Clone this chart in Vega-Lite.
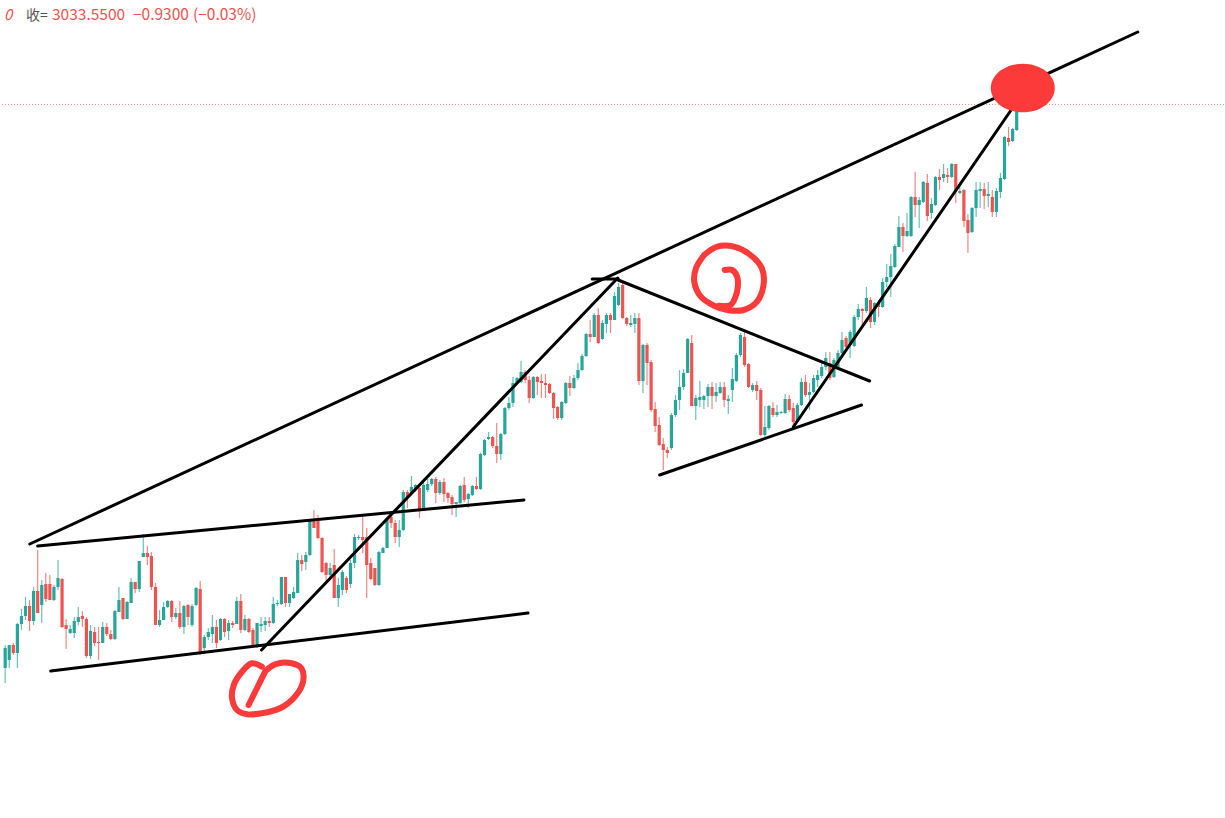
{
"$schema":"https://vega.github.io/schema/vega-lite/v6.json",
"width":1225,"height":818,
"autosize":{"type":"fit","contains":"padding"},
"padding":0,
"background":"#ffffff",
"config":{"view":{"stroke":null}},
"datasets":{
"candles":[
{"i":0,"o":2470,"h":2493,"l":2455,"c":2490},
{"i":1,"o":2478,"h":2493,"l":2470,"c":2493},
{"i":2,"o":2493,"h":2495,"l":2483,"c":2485},
{"i":3,"o":2485,"h":2515,"l":2470,"c":2514},
{"i":4,"o":2514,"h":2529,"l":2508,"c":2522},
{"i":5,"o":2522,"h":2541,"l":2518,"c":2532},
{"i":6,"o":2532,"h":2538,"l":2507,"c":2517},
{"i":7,"o":2517,"h":2551,"l":2513,"c":2547},
{"i":8,"o":2547,"h":2588,"l":2525,"c":2525},
{"i":9,"o":2533,"h":2558,"l":2515,"c":2553},
{"i":10,"o":2554,"h":2565,"l":2536,"c":2539},
{"i":11,"o":2554,"h":2563,"l":2538,"c":2538},
{"i":12,"o":2538,"h":2553,"l":2537,"c":2551},
{"i":13,"o":2551,"h":2578,"l":2548,"c":2560},
{"i":14,"o":2559,"h":2560,"l":2510,"c":2511},
{"i":15,"o":2513,"h":2519,"l":2489,"c":2509},
{"i":16,"o":2505,"h":2513,"l":2504,"c":2509},
{"i":17,"o":2505,"h":2521,"l":2500,"c":2517},
{"i":18,"o":2516,"h":2531,"l":2513,"c":2521},
{"i":19,"o":2522,"h":2527,"l":2511,"c":2519},
{"i":20,"o":2519,"h":2521,"l":2480,"c":2482},
{"i":21,"o":2482,"h":2513,"l":2479,"c":2507},
{"i":22,"o":2506,"h":2511,"l":2492,"c":2495},
{"i":23,"o":2496,"h":2511,"l":2478,"c":2495},
{"i":24,"o":2495,"h":2516,"l":2495,"c":2511},
{"i":25,"o":2511,"h":2515,"l":2502,"c":2504},
{"i":26,"o":2504,"h":2508,"l":2498,"c":2499},
{"i":27,"o":2499,"h":2528,"l":2498,"c":2527},
{"i":28,"o":2526,"h":2551,"l":2526,"c":2538},
{"i":29,"o":2540,"h":2540,"l":2518,"c":2519},
{"i":30,"o":2519,"h":2537,"l":2519,"c":2536},
{"i":31,"o":2535,"h":2560,"l":2535,"c":2556},
{"i":32,"o":2556,"h":2556,"l":2545,"c":2549},
{"i":33,"o":2549,"h":2577,"l":2546,"c":2577},
{"i":34,"o":2581,"h":2604,"l":2581,"c":2585},
{"i":35,"o":2585,"h":2592,"l":2573,"c":2581},
{"i":36,"o":2582,"h":2586,"l":2548,"c":2551},
{"i":37,"o":2551,"h":2555,"l":2513,"c":2513},
{"i":38,"o":2513,"h":2528,"l":2511,"c":2518},
{"i":39,"o":2518,"h":2536,"l":2518,"c":2531},
{"i":40,"o":2531,"h":2538,"l":2530,"c":2537},
{"i":41,"o":2537,"h":2538,"l":2516,"c":2521},
{"i":42,"o":2521,"h":2530,"l":2519,"c":2525},
{"i":43,"o":2525,"h":2537,"l":2509,"c":2511},
{"i":44,"o":2511,"h":2533,"l":2504,"c":2532},
{"i":45,"o":2533,"h":2534,"l":2513,"c":2521},
{"i":46,"o":2513,"h":2534,"l":2511,"c":2532},
{"i":47,"o":2533,"h":2551,"l":2532,"c":2550},
{"i":48,"o":2549,"h":2557,"l":2483,"c":2484},
{"i":49,"o":2490,"h":2503,"l":2484,"c":2501},
{"i":50,"o":2501,"h":2510,"l":2498,"c":2506},
{"i":51,"o":2504,"h":2523,"l":2495,"c":2511},
{"i":52,"o":2511,"h":2518,"l":2490,"c":2495},
{"i":53,"o":2498,"h":2520,"l":2497,"c":2519},
{"i":54,"o":2519,"h":2520,"l":2501,"c":2506},
{"i":55,"o":2507,"h":2518,"l":2498,"c":2515},
{"i":56,"o":2515,"h":2517,"l":2510,"c":2513},
{"i":57,"o":2514,"h":2541,"l":2514,"c":2537},
{"i":58,"o":2537,"h":2544,"l":2505,"c":2508},
{"i":59,"o":2508,"h":2523,"l":2507,"c":2519},
{"i":60,"o":2519,"h":2520,"l":2505,"c":2506},
{"i":61,"o":2508,"h":2510,"l":2490,"c":2491},
{"i":62,"o":2491,"h":2515,"l":2490,"c":2515},
{"i":63,"o":2512,"h":2521,"l":2506,"c":2514},
{"i":64,"o":2513,"h":2521,"l":2507,"c":2517},
{"i":65,"o":2517,"h":2521,"l":2511,"c":2515},
{"i":66,"o":2515,"h":2541,"l":2514,"c":2534},
{"i":67,"o":2534,"h":2538,"l":2532,"c":2535},
{"i":68,"o":2534,"h":2561,"l":2533,"c":2561},
{"i":69,"o":2561,"h":2561,"l":2531,"c":2535},
{"i":70,"o":2535,"h":2544,"l":2531,"c":2544},
{"i":71,"o":2540,"h":2551,"l":2539,"c":2546},
{"i":72,"o":2545,"h":2585,"l":2545,"c":2578},
{"i":73,"o":2578,"h":2583,"l":2567,"c":2574},
{"i":74,"o":2576,"h":2586,"l":2568,"c":2583},
{"i":75,"o":2583,"h":2618,"l":2582,"c":2618},
{"i":76,"o":2618,"h":2628,"l":2610,"c":2610},
{"i":77,"o":2617,"h":2623,"l":2599,"c":2600},
{"i":78,"o":2600,"h":2601,"l":2565,"c":2566},
{"i":79,"o":2575,"h":2576,"l":2556,"c":2563},
{"i":80,"o":2563,"h":2575,"l":2560,"c":2570},
{"i":81,"o":2573,"h":2589,"l":2540,"c":2540},
{"i":82,"o":2540,"h":2560,"l":2531,"c":2553},
{"i":83,"o":2548,"h":2568,"l":2543,"c":2566},
{"i":84,"o":2560,"h":2562,"l":2545,"c":2548},
{"i":85,"o":2554,"h":2578,"l":2550,"c":2575},
{"i":86,"o":2575,"h":2604,"l":2570,"c":2601},
{"i":87,"o":2600,"h":2603,"l":2598,"c":2601},
{"i":88,"o":2601,"h":2622,"l":2585,"c":2598},
{"i":89,"o":2601,"h":2610,"l":2540,"c":2573},
{"i":90,"o":2575,"h":2580,"l":2558,"c":2559},
{"i":91,"o":2570,"h":2570,"l":2552,"c":2553},
{"i":92,"o":2553,"h":2587,"l":2552,"c":2586},
{"i":93,"o":2585,"h":2591,"l":2585,"c":2590},
{"i":94,"o":2590,"h":2621,"l":2590,"c":2620},
{"i":95,"o":2621,"h":2625,"l":2610,"c":2615},
{"i":96,"o":2615,"h":2618,"l":2595,"c":2601},
{"i":97,"o":2601,"h":2618,"l":2591,"c":2608},
{"i":98,"o":2608,"h":2648,"l":2607,"c":2646},
{"i":99,"o":2646,"h":2648,"l":2630,"c":2640},
{"i":100,"o":2645,"h":2662,"l":2643,"c":2651},
{"i":101,"o":2648,"h":2654,"l":2646,"c":2653},
{"i":102,"o":2650,"h":2651,"l":2620,"c":2629},
{"i":103,"o":2629,"h":2655,"l":2628,"c":2653},
{"i":104,"o":2648,"h":2659,"l":2646,"c":2654},
{"i":105,"o":2654,"h":2660,"l":2652,"c":2659},
{"i":106,"o":2659,"h":2661,"l":2635,"c":2645},
{"i":107,"o":2645,"h":2658,"l":2643,"c":2656},
{"i":108,"o":2656,"h":2660,"l":2636,"c":2644},
{"i":109,"o":2645,"h":2646,"l":2635,"c":2640},
{"i":110,"o":2641,"h":2643,"l":2623,"c":2634},
{"i":111,"o":2634,"h":2636,"l":2621,"c":2636},
{"i":112,"o":2635,"h":2653,"l":2634,"c":2652},
{"i":113,"o":2653,"h":2661,"l":2636,"c":2638},
{"i":114,"o":2639,"h":2645,"l":2630,"c":2644},
{"i":115,"o":2643,"h":2653,"l":2642,"c":2652},
{"i":116,"o":2652,"h":2661,"l":2648,"c":2649},
{"i":117,"o":2649,"h":2685,"l":2648,"c":2684},
{"i":118,"o":2683,"h":2699,"l":2682,"c":2698},
{"i":119,"o":2699,"h":2706,"l":2698,"c":2701},
{"i":120,"o":2701,"h":2702,"l":2690,"c":2692},
{"i":121,"o":2692,"h":2715,"l":2675,"c":2684},
{"i":122,"o":2684,"h":2705,"l":2678,"c":2704},
{"i":123,"o":2704,"h":2731,"l":2703,"c":2730},
{"i":124,"o":2730,"h":2741,"l":2728,"c":2735},
{"i":125,"o":2735,"h":2761,"l":2731,"c":2755},
{"i":126,"o":2755,"h":2761,"l":2753,"c":2760},
{"i":127,"o":2756,"h":2777,"l":2755,"c":2766},
{"i":128,"o":2766,"h":2768,"l":2755,"c":2758},
{"i":129,"o":2758,"h":2762,"l":2735,"c":2740},
{"i":130,"o":2740,"h":2762,"l":2739,"c":2761},
{"i":131,"o":2761,"h":2762,"l":2743,"c":2756},
{"i":132,"o":2757,"h":2764,"l":2740,"c":2755},
{"i":133,"o":2755,"h":2764,"l":2740,"c":2753},
{"i":134,"o":2754,"h":2755,"l":2744,"c":2745},
{"i":135,"o":2745,"h":2746,"l":2719,"c":2730},
{"i":136,"o":2731,"h":2732,"l":2718,"c":2720},
{"i":137,"o":2720,"h":2737,"l":2718,"c":2736},
{"i":138,"o":2735,"h":2756,"l":2734,"c":2755},
{"i":139,"o":2755,"h":2762,"l":2742,"c":2750},
{"i":140,"o":2750,"h":2763,"l":2749,"c":2760},
{"i":141,"o":2760,"h":2775,"l":2758,"c":2768},
{"i":142,"o":2768,"h":2784,"l":2767,"c":2782},
{"i":143,"o":2782,"h":2805,"l":2781,"c":2804},
{"i":144,"o":2804,"h":2818,"l":2796,"c":2801},
{"i":145,"o":2801,"h":2825,"l":2801,"c":2823},
{"i":146,"o":2823,"h":2830,"l":2794,"c":2795},
{"i":147,"o":2799,"h":2818,"l":2798,"c":2815},
{"i":148,"o":2814,"h":2825,"l":2805,"c":2823},
{"i":149,"o":2823,"h":2825,"l":2805,"c":2818},
{"i":150,"o":2818,"h":2846,"l":2818,"c":2842},
{"i":151,"o":2833,"h":2855,"l":2832,"c":2851},
{"i":152,"o":2853,"h":2855,"l":2819,"c":2820},
{"i":153,"o":2820,"h":2821,"l":2812,"c":2814},
{"i":154,"o":2813,"h":2823,"l":2811,"c":2815},
{"i":155,"o":2814,"h":2825,"l":2805,"c":2820},
{"i":156,"o":2820,"h":2825,"l":2753,"c":2757},
{"i":157,"o":2757,"h":2794,"l":2745,"c":2793},
{"i":158,"o":2793,"h":2795,"l":2753,"c":2775},
{"i":159,"o":2776,"h":2778,"l":2726,"c":2728},
{"i":160,"o":2729,"h":2736,"l":2706,"c":2712},
{"i":161,"o":2713,"h":2721,"l":2692,"c":2693},
{"i":162,"o":2694,"h":2700,"l":2668,"c":2688},
{"i":163,"o":2688,"h":2691,"l":2680,"c":2685},
{"i":164,"o":2690,"h":2725,"l":2688,"c":2723},
{"i":165,"o":2723,"h":2743,"l":2721,"c":2738},
{"i":166,"o":2738,"h":2768,"l":2728,"c":2751},
{"i":167,"o":2751,"h":2769,"l":2748,"c":2765},
{"i":168,"o":2765,"h":2800,"l":2765,"c":2799},
{"i":169,"o":2795,"h":2803,"l":2732,"c":2732},
{"i":170,"o":2732,"h":2743,"l":2718,"c":2740},
{"i":171,"o":2738,"h":2757,"l":2731,"c":2741},
{"i":172,"o":2738,"h":2743,"l":2729,"c":2742},
{"i":173,"o":2742,"h":2754,"l":2731,"c":2751},
{"i":174,"o":2751,"h":2756,"l":2729,"c":2742},
{"i":175,"o":2742,"h":2755,"l":2736,"c":2746},
{"i":176,"o":2745,"h":2756,"l":2744,"c":2751},
{"i":177,"o":2751,"h":2756,"l":2731,"c":2738},
{"i":178,"o":2737,"h":2743,"l":2724,"c":2739},
{"i":179,"o":2748,"h":2770,"l":2736,"c":2759},
{"i":180,"o":2757,"h":2785,"l":2756,"c":2783},
{"i":181,"o":2783,"h":2805,"l":2781,"c":2803},
{"i":182,"o":2801,"h":2806,"l":2771,"c":2773},
{"i":183,"o":2774,"h":2775,"l":2750,"c":2751},
{"i":184,"o":2748,"h":2755,"l":2746,"c":2753},
{"i":185,"o":2753,"h":2757,"l":2738,"c":2747},
{"i":186,"o":2748,"h":2750,"l":2702,"c":2703},
{"i":187,"o":2703,"h":2732,"l":2701,"c":2711},
{"i":188,"o":2710,"h":2733,"l":2708,"c":2732},
{"i":189,"o":2730,"h":2736,"l":2721,"c":2723},
{"i":190,"o":2723,"h":2733,"l":2721,"c":2726},
{"i":191,"o":2725,"h":2727,"l":2724,"c":2726},
{"i":192,"o":2725,"h":2744,"l":2724,"c":2739},
{"i":193,"o":2739,"h":2743,"l":2726,"c":2728},
{"i":194,"o":2730,"h":2735,"l":2711,"c":2716},
{"i":195,"o":2716,"h":2735,"l":2715,"c":2733},
{"i":196,"o":2733,"h":2760,"l":2732,"c":2756},
{"i":197,"o":2756,"h":2763,"l":2741,"c":2743},
{"i":198,"o":2743,"h":2755,"l":2728,"c":2746},
{"i":199,"o":2746,"h":2763,"l":2745,"c":2760},
{"i":200,"o":2758,"h":2768,"l":2751,"c":2763},
{"i":201,"o":2762,"h":2776,"l":2760,"c":2771},
{"i":202,"o":2771,"h":2786,"l":2768,"c":2780},
{"i":203,"o":2775,"h":2786,"l":2758,"c":2760},
{"i":204,"o":2761,"h":2780,"l":2760,"c":2778},
{"i":205,"o":2771,"h":2788,"l":2770,"c":2785},
{"i":206,"o":2785,"h":2806,"l":2780,"c":2798},
{"i":207,"o":2800,"h":2802,"l":2790,"c":2791},
{"i":208,"o":2793,"h":2808,"l":2780,"c":2806},
{"i":209,"o":2792,"h":2823,"l":2791,"c":2821},
{"i":210,"o":2821,"h":2834,"l":2818,"c":2829},
{"i":211,"o":2829,"h":2830,"l":2813,"c":2827},
{"i":212,"o":2827,"h":2851,"l":2825,"c":2840},
{"i":213,"o":2838,"h":2841,"l":2810,"c":2816},
{"i":214,"o":2816,"h":2836,"l":2813,"c":2835},
{"i":215,"o":2835,"h":2838,"l":2821,"c":2831},
{"i":216,"o":2831,"h":2860,"l":2830,"c":2856},
{"i":217,"o":2856,"h":2874,"l":2851,"c":2861},
{"i":218,"o":2861,"h":2884,"l":2841,"c":2872},
{"i":219,"o":2871,"h":2894,"l":2870,"c":2892},
{"i":220,"o":2891,"h":2922,"l":2891,"c":2911},
{"i":221,"o":2911,"h":2915,"l":2886,"c":2902},
{"i":222,"o":2902,"h":2925,"l":2901,"c":2907},
{"i":223,"o":2902,"h":2942,"l":2901,"c":2941},
{"i":224,"o":2941,"h":2966,"l":2921,"c":2933},
{"i":225,"o":2933,"h":2941,"l":2910,"c":2938},
{"i":226,"o":2936,"h":2957,"l":2935,"c":2956},
{"i":227,"o":2955,"h":2964,"l":2917,"c":2922},
{"i":228,"o":2925,"h":2940,"l":2919,"c":2934},
{"i":229,"o":2933,"h":2962,"l":2932,"c":2961},
{"i":230,"o":2961,"h":2969,"l":2948,"c":2958},
{"i":231,"o":2960,"h":2974,"l":2956,"c":2964},
{"i":232,"o":2963,"h":2970,"l":2955,"c":2961},
{"i":233,"o":2961,"h":2975,"l":2960,"c":2974},
{"i":234,"o":2974,"h":2974,"l":2935,"c":2947},
{"i":235,"o":2945,"h":2956,"l":2944,"c":2947},
{"i":236,"o":2948,"h":2949,"l":2911,"c":2917},
{"i":237,"o":2918,"h":2924,"l":2885,"c":2905},
{"i":238,"o":2906,"h":2931,"l":2905,"c":2930},
{"i":239,"o":2930,"h":2956,"l":2921,"c":2948},
{"i":240,"o":2947,"h":2956,"l":2930,"c":2949},
{"i":241,"o":2949,"h":2955,"l":2929,"c":2942},
{"i":242,"o":2942,"h":2956,"l":2931,"c":2944},
{"i":243,"o":2941,"h":2948,"l":2921,"c":2926},
{"i":244,"o":2926,"h":2950,"l":2921,"c":2947},
{"i":245,"o":2946,"h":2965,"l":2940,"c":2960},
{"i":246,"o":2959,"h":3002,"l":2958,"c":3001},
{"i":247,"o":3000,"h":3011,"l":2992,"c":2996},
{"i":248,"o":2997,"h":3010,"l":2996,"c":3009},
{"i":249,"o":3008,"h":3034,"l":3007,"c":3033.55}
],
"trend":[
{"x1":6.05,"p1":2594,"x2":278.8,"p2":3106},
{"x1":8.0,"p1":2592,"x2":127.7,"p2":2638},
{"x1":11.2,"p1":2467,"x2":128.7,"p2":2525},
{"x1":63.1,"p1":2488,"x2":150.8,"p2":2860},
{"x1":144.5,"p1":2859,"x2":150.9,"p2":2859},
{"x1":150.9,"p1":2858,"x2":212.8,"p2":2757},
{"x1":161.1,"p1":2663,"x2":210.8,"p2":2733},
{"x1":194.0,"p1":2711,"x2":248.3,"p2":3032}
],
"hand":[
{"g":"a","k":0,"x":63.17,"p":2471.3},
{"g":"a","k":1,"x":60.73,"p":2474.7},
{"g":"a","k":2,"x":58.29,"p":2466.3},
{"g":"a","k":3,"x":56.27,"p":2453},
{"g":"a","k":4,"x":55.85,"p":2439.7},
{"g":"a","k":5,"x":57.07,"p":2428},
{"g":"a","k":6,"x":59.51,"p":2423.7},
{"g":"a","k":7,"x":63.17,"p":2424.7},
{"g":"a","k":8,"x":67.65,"p":2429.7},
{"g":"a","k":9,"x":71.31,"p":2441.3},
{"g":"a","k":10,"x":73.33,"p":2456.3},
{"g":"a","k":11,"x":72.92,"p":2469.7},
{"g":"a","k":12,"x":70.48,"p":2474.7},
{"g":"a","k":13,"x":66.43,"p":2473.7},
{"g":"a","k":14,"x":64.38,"p":2468},
{"g":"b","k":0,"x":63.99,"p":2466.3},
{"g":"b","k":1,"x":62.0,"p":2450},
{"g":"b","k":2,"x":59.92,"p":2433},
{"g":"c","k":0,"x":172.06,"p":2883},
{"g":"c","k":1,"x":175.30,"p":2891.3},
{"g":"c","k":2,"x":179.38,"p":2891.3},
{"g":"c","k":3,"x":183.45,"p":2883},
{"g":"c","k":4,"x":186.27,"p":2869.7},
{"g":"c","k":5,"x":186.69,"p":2853},
{"g":"c","k":6,"x":185.06,"p":2836.3},
{"g":"c","k":7,"x":181.82,"p":2828},
{"g":"c","k":8,"x":177.74,"p":2828},
{"g":"c","k":9,"x":174.50,"p":2832.3},
{"g":"c","k":10,"x":171.25,"p":2841.3},
{"g":"c","k":11,"x":169.63,"p":2856.3},
{"g":"c","k":12,"x":170.04,"p":2869.7},
{"g":"c","k":13,"x":172.06,"p":2883},
{"g":"d","k":0,"x":177.11,"p":2868},
{"g":"d","k":1,"x":178.96,"p":2868},
{"g":"d","k":2,"x":180.18,"p":2861.3},
{"g":"d","k":3,"x":180.35,"p":2851.3},
{"g":"d","k":4,"x":179.79,"p":2841.3},
{"g":"d","k":5,"x":178.57,"p":2833},
{"g":"d","k":6,"x":175.72,"p":2832.3}
]
},
"layer":[
{"data":{"values":[{"p":3033.55}]},
 "mark":{"type":"rule","color":"#e57373","strokeDash":[1,2],"strokeWidth":1,"opacity":0.8},
 "encoding":{"y":{"field":"p","type":"quantitative","scale":{"domain":[2320,3138],"nice":false,"zero":false},"axis":null}}},
{"data":{"name":"candles"},
 "mark":{"type":"rule","strokeWidth":1.2,"opacity":0.7,"clip":true},
 "encoding":{
  "x":{"field":"i","type":"quantitative","scale":{"domain":[0.2,298.8],"nice":false,"zero":false},"axis":null},
  "y":{"field":"l","type":"quantitative","scale":{"domain":[2320,3138],"nice":false,"zero":false},"axis":null},
  "y2":{"field":"h"},
  "color":{"condition":{"test":"datum.c >= datum.o","value":"#26a69a"},"value":"#ef5350"}}},
{"data":{"name":"candles"},
 "mark":{"type":"bar","size":3.2,"clip":true},
 "encoding":{
  "x":{"field":"i","type":"quantitative","scale":{"domain":[0.2,298.8],"nice":false,"zero":false},"axis":null},
  "y":{"field":"o","type":"quantitative","scale":{"domain":[2320,3138],"nice":false,"zero":false},"axis":null},
  "y2":{"field":"c"},
  "color":{"condition":{"test":"datum.c >= datum.o","value":"#26a69a"},"value":"#ef5350"}}},
{"data":{"name":"trend"},
 "mark":{"type":"rule","color":"#000000","strokeWidth":3,"strokeCap":"round"},
 "encoding":{
  "x":{"field":"x1","type":"quantitative","scale":{"domain":[0.2,298.8],"nice":false,"zero":false},"axis":null},
  "y":{"field":"p1","type":"quantitative","scale":{"domain":[2320,3138],"nice":false,"zero":false},"axis":null},
  "x2":{"field":"x2"},
  "y2":{"field":"p2"}}},
{"data":{"name":"hand"},
 "mark":{"type":"line","color":"#fd3a3a","strokeWidth":6,"strokeCap":"round","strokeJoin":"round","interpolate":"catmull-rom"},
 "encoding":{
  "x":{"field":"x","type":"quantitative","scale":{"domain":[0.2,298.8],"nice":false,"zero":false},"axis":null},
  "y":{"field":"p","type":"quantitative","scale":{"domain":[2320,3138],"nice":false,"zero":false},"axis":null},
  "detail":{"field":"g"},
  "order":{"field":"k","type":"quantitative"}}},
{"data":{"values":[{"x":250.5,"p":3050}]},
 "mark":{"type":"point","filled":true,"opacity":1,"color":"#fd3a3a","size":4096,"shape":"M -1 0 A 1 0.76 0 1 0 1 0 A 1 0.76 0 1 0 -1 0 Z"},
 "encoding":{
  "x":{"field":"x","type":"quantitative","scale":{"domain":[0.2,298.8],"nice":false,"zero":false},"axis":null},
  "y":{"field":"p","type":"quantitative","scale":{"domain":[2320,3138],"nice":false,"zero":false},"axis":null}}},
{"data":{"values":[{}]},
 "mark":{"type":"text","text":"0","x":3,"y":20,"align":"left","baseline":"alphabetic","fontSize":15,"font":"Noto Sans CJK SC","color":"#ef5350","fontStyle":"italic"},
 "encoding":{}},
{"data":{"values":[{}]},
 "mark":{"type":"text","text":"收=","x":25,"y":20,"align":"left","baseline":"alphabetic","fontSize":14,"font":"Noto Sans CJK SC","color":"#555555"},
 "encoding":{}},
{"data":{"values":[{}]},
 "mark":{"type":"text","text":"3033.5500","x":51,"y":20.3,"align":"left","baseline":"alphabetic","fontSize":15.5,"font":"Noto Sans CJK SC","color":"#ef5350"},
 "encoding":{}},
{"data":{"values":[{}]},
 "mark":{"type":"text","text":"−0.9300","x":132,"y":20.3,"align":"left","baseline":"alphabetic","fontSize":15.5,"font":"Noto Sans CJK SC","color":"#ef5350"},
 "encoding":{}},
{"data":{"values":[{}]},
 "mark":{"type":"text","text":"(−0.03%)","x":192,"y":20.3,"align":"left","baseline":"alphabetic","fontSize":15.5,"font":"Noto Sans CJK SC","color":"#ef5350"},
 "encoding":{}}
]
}
